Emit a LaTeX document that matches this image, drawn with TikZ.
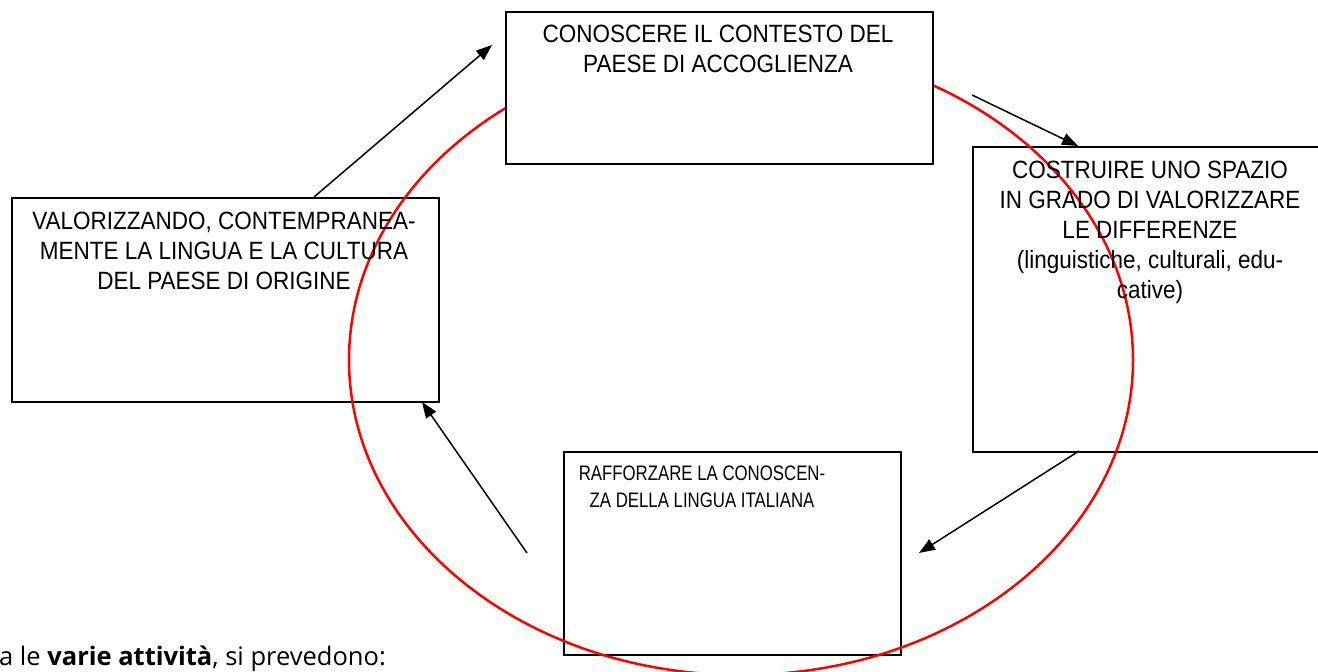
\documentclass[tikz,border=0pt]{standalone}
\usepackage{fontspec}
\setmainfont{Liberation Sans}[FakeStretch=0.9]
\newfontfamily\narrowfont{Liberation Sans}[FakeStretch=0.8]
\newfontfamily\notefont{Open Sans}
\usetikzlibrary{arrows.meta}
\tikzset{
  box/.style={draw=black, line width=2pt, rectangle, inner sep=0pt, anchor=north west},
  boxtxt/.style={align=center, inner sep=0pt, anchor=north, font=\fontsize{25}{30}\selectfont},
  smalltxt/.style={align=center, inner sep=0pt, anchor=north, font=\narrowfont\fontsize{21}{27}\selectfont},
  arr/.style={draw=black, line width=1.5pt, -{Triangle[length=16pt,width=12pt]}},
  loop/.style={draw=red, line width=2.5pt}
}
\begin{document}
\begin{tikzpicture}[x=1pt,y=-1pt]
\useasboundingbox (0,0) rectangle (1318,672);
\clip (0,0) rectangle (1318,672);
% boxes seen through the ellipse
\node[box, minimum width=427pt, minimum height=204pt] (left) at (11,197) {};
\node[box, minimum width=370pt, minimum height=305pt] (right) at (972,146) {};
\node[box, minimum width=337pt, minimum height=203pt] (bottom) at (563,451) {};
% red ellipse
\draw[loop] (741,360) ellipse [x radius=392pt, y radius=315pt];
% top box hides the ellipse
\node[box, fill=white, minimum width=427pt, minimum height=152pt] (top) at (505,11) {};
% texts
\node[boxtxt] (toptext) at (718,25) {CONOSCERE IL CONTESTO DEL\\PAESE DI ACCOGLIENZA};
\node[boxtxt] (righttext) at (1150,161) {COSTRUIRE UNO SPAZIO\\IN GRADO DI VALORIZZARE\\LE DIFFERENZE\\(linguistiche, culturali, edu-\\cative)};
\node[boxtxt] (lefttext) at (224,212) {VALORIZZANDO, CONTEMPRANEA-\\MENTE LA LINGUA E LA CULTURA\\DEL PAESE DI ORIGINE};
\node[smalltxt] (bottomtext) at (702,466) {RAFFORZARE LA CONOSCEN-\\ZA DELLA LINGUA ITALIANA};
\node[anchor=base west, inner sep=0pt, font=\notefont\fontsize{25.5}{30}\selectfont] (note) at (-1,665) {a le \textbf{varie attività}, si prevedono:};
% arrow end points
\coordinate (a1s) at (314,197);
\coordinate (a1e) at (492,45);
\coordinate (a2s) at (972,95);
\coordinate (a2e) at (1078,146);
\coordinate (a3s) at (1079,451);
\coordinate (a3e) at (919,553);
\coordinate (a4s) at (527,553);
\coordinate (a4e) at (422,402);
\draw[arr] (a1s) -- (a1e);
\draw[arr] (a2s) -- (a2e);
\draw[arr] (a3s) -- (a3e);
\draw[arr] (a4s) -- (a4e);
\end{tikzpicture}
\end{document}
